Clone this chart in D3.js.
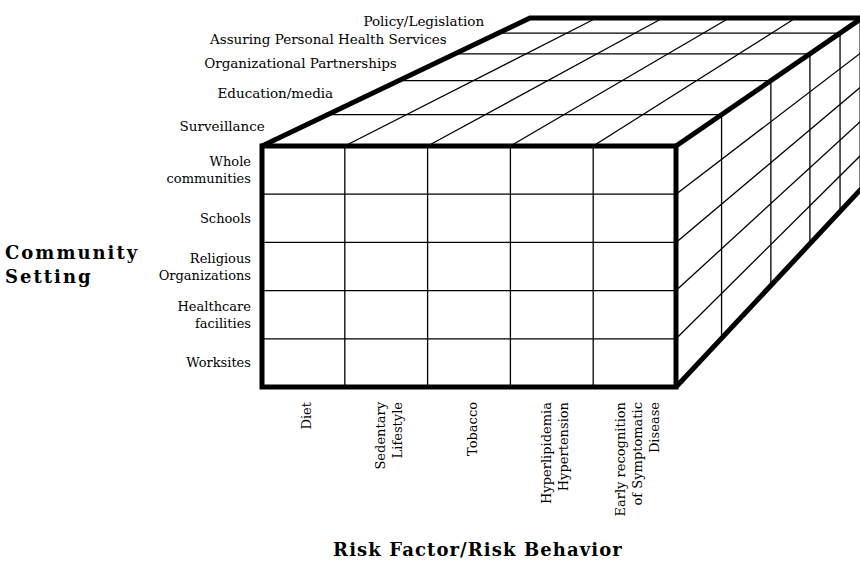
<!DOCTYPE html>
<html>
<head>
<meta charset="utf-8">
<script src="https://cdn.jsdelivr.net/npm/d3@7"></script>
<style>
  html, body { margin: 0; padding: 0; background: #fff; }
  svg { display: block; }
  text { font-family: "DejaVu Serif", "Liberation Serif", serif; fill: #000; }
</style>
</head>
<body>
<div id="chart"></div>
<script>
// categories on the three axes of the cube
const riskFactors = [
  ['Diet'],
  ['Sedentary', 'Lifestyle'],
  ['Tobacco'],
  ['Hyperlipidemia', 'Hypertension'],
  ['Early recognition', 'of Symptomatic', 'Disease']
];
const settings = [
  ['Whole', 'communities'],
  ['Schools'],
  ['Religious', 'Organizations'],
  ['Healthcare', 'facilities'],
  ['Worksites']
];
const strategies = [
  'Surveillance',
  'Education/media',
  'Organizational Partnerships',
  'Assuring Personal Health Services',
  'Policy/Legislation'
];
// depth slices get thinner towards the back (drawn in perspective)
const depthStops = [0, 0.245, 0.51, 0.72, 0.882, 1];

const width = 860, height = 561;

const svg = d3.select('#chart').append('svg')
  .attr('width', width)
  .attr('height', height);

svg.append('rect').attr('width', width).attr('height', height).attr('fill', '#fff');

// front face and back face of the box, everything else is interpolated
const front = {
  x: d3.scaleLinear([0, 1], [262, 676]),
  y: d3.scaleLinear([0, 1], [146, 387])
};
const back = {
  x: d3.scaleLinear([0, 1], [530, 862]),
  y: d3.scaleLinear([0, 1], [18, 188])
};

const col = d3.scaleBand().domain(d3.range(riskFactors.length)).range([0, 1]);
const row = d3.scaleBand().domain(d3.range(settings.length)).range([0, 1]);
const depth = d3.scaleLinear().domain(d3.range(depthStops.length)).range(depthStops);

// u: across, v: down, w: into the page
function proj(u, v, w) {
  return [
    d3.interpolateNumber(front.x(u), back.x(u))(w),
    d3.interpolateNumber(front.y(v), back.y(v))(w)
  ];
}

const line = d3.line();
const gridLines = [];
const inner = k => k > 0;

// front face
d3.range(riskFactors.length).filter(inner).forEach(i => {
  const u = col(i);
  gridLines.push([proj(u, 0, 0), proj(u, 1, 0)]);
});
d3.range(settings.length).filter(inner).forEach(i => {
  const v = row(i);
  gridLines.push([proj(0, v, 0), proj(1, v, 0)]);
});

// top face
d3.range(riskFactors.length).filter(inner).forEach(i => {
  const u = col(i);
  gridLines.push([proj(u, 0, 0), proj(u, 0, 1)]);
});
d3.range(strategies.length).filter(inner).forEach(i => {
  const w = depth(i);
  gridLines.push([proj(0, 0, w), proj(1, 0, w)]);
});

// right face
d3.range(settings.length).filter(inner).forEach(i => {
  const v = row(i);
  gridLines.push([proj(1, v, 0), proj(1, v, 1)]);
});
d3.range(strategies.length).filter(inner).forEach(i => {
  const w = depth(i);
  gridLines.push([proj(1, 0, w), proj(1, 1, w)]);
});

svg.append('g')
  .selectAll('path')
  .data(gridLines)
  .join('path')
  .attr('d', line)
  .attr('fill', 'none')
  .attr('stroke', '#000')
  .attr('stroke-width', 1.3);

// heavy outline of the box
const outline = svg.append('g')
  .attr('fill', 'none')
  .attr('stroke', '#000')
  .attr('stroke-width', 5)
  .attr('stroke-linejoin', 'miter');

outline.append('path')
  .attr('d', line([proj(0, 0, 0), proj(1, 0, 0), proj(1, 1, 0), proj(0, 1, 0)]) + 'Z');
outline.append('path')
  .attr('d', line([proj(0, 0, 0), proj(0, 0, 1), proj(1, 0, 1), proj(1, 1, 1), proj(1, 1, 0)]));
outline.append('path')
  .attr('d', line([proj(1, 0, 0), proj(1, 0, 1)]));

// strategy labels next to the top face
svg.append('g')
  .attr('font-size', 13.5)
  .attr('text-anchor', 'end')
  .selectAll('text')
  .data(strategies)
  .join('text')
  .attr('x', (d, i) => proj(0, 0, (depth(i) + depth(i + 1)) / 2)[0] - 30)
  .attr('y', (d, i) => proj(0, 0, (depth(i) + depth(i + 1)) / 2)[1])
  .attr('dy', '0.05em')
  .text(d => d);

// community setting labels left of the front face
const lineGap = 17;
const setG = svg.append('g')
  .attr('font-size', 13)
  .attr('text-anchor', 'end');
settings.forEach((lines, i) => {
  const cy = front.y(row(i) + row.bandwidth() / 2);
  lines.forEach((t, j) => {
    setG.append('text')
      .attr('x', front.x(0) - 11)
      .attr('y', cy + (j - (lines.length - 1) / 2) * lineGap)
      .attr('dy', '0.35em')
      .text(t);
  });
});

// risk factor labels, rotated, under the front face
const riskG = svg.append('g')
  .attr('font-size', 13)
  .attr('text-anchor', 'end');
riskFactors.forEach((lines, i) => {
  const cx = front.x(col(i) + col.bandwidth() / 2) + 3;
  lines.forEach((t, j) => {
    const x = cx + (j - (lines.length - 1) / 2) * lineGap;
    riskG.append('text')
      .attr('transform', `translate(${x},${front.y(1) + 15}) rotate(-90)`)
      .attr('dy', '0.35em')
      .text(t);
  });
});

// axis titles
svg.append('g')
  .attr('font-size', 18)
  .attr('font-weight', 'bold')
  .attr('letter-spacing', 2)
  .selectAll('text')
  .data(['Community', 'Setting'])
  .join('text')
  .attr('x', 5)
  .attr('y', (d, i) => 253 + i * 24)
  .attr('dy', '0.35em')
  .text(d => d);

svg.append('text')
  .attr('x', front.x(0.5) + 9)
  .attr('y', 550)
  .attr('dy', '0.35em')
  .attr('text-anchor', 'middle')
  .attr('font-size', 18)
  .attr('font-weight', 'bold')
  .attr('letter-spacing', 1.1)
  .text('Risk Factor/Risk Behavior');
</script>
</body>
</html>
